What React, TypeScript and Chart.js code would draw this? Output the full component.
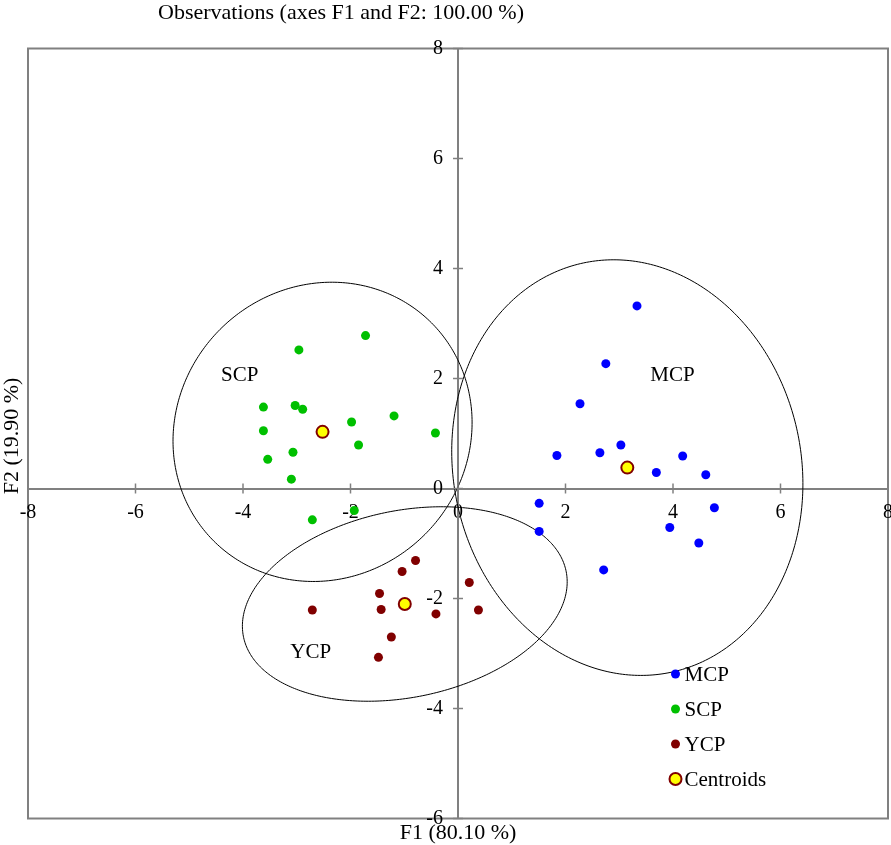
import React, { useEffect, useRef } from 'react';
import { Chart, registerables } from 'chart.js';

Chart.register(...registerables);

// ---------- data ----------
const mcpX = [3.33, 2.75, 2.27, 3.03, 1.84, 2.64, 4.18, 3.69, 4.61, 1.51, 4.77, 3.94, 1.51, 4.48, 2.71];
const mcpY = [3.32, 2.27, 1.54, 0.79, 0.60, 0.65, 0.59, 0.29, 0.25, -0.27, -0.35, -0.71, -0.78, -0.99, -1.48];

const scpX = [-1.72, -2.96, -3.62, -3.03, -2.89, -1.19, -1.98, -0.42, -3.62, -1.85, -3.07, -3.54, -3.10, -2.71, -1.93];
const scpY = [2.78, 2.52, 1.48, 1.51, 1.44, 1.32, 1.21, 1.01, 1.05, 0.79, 0.66, 0.53, 0.17, -0.57, -0.40];

const ycpX = [-0.79, -1.04, 0.21, -1.46, -2.71, -1.43, 0.38, -0.41, -1.24, -1.48];
const ycpY = [-1.31, -1.51, -1.71, -1.91, -2.21, -2.20, -2.21, -2.28, -2.70, -3.07];

const centroidX = [3.15, -2.52, -0.99];
const centroidY = [0.38, 1.03, -2.10];

const groupNames = ['MCP', 'SCP', 'YCP'];
const groupLabelX = [3.99, -4.06, -2.74];
const groupLabelY = [2.05, 2.05, -2.99];

// confidence ellipses (data units): centre, semi-axes, rotation (deg)
const ellipseCx = [3.15, -2.52, -0.99];
const ellipseCy = [0.38, 1.03, -2.10];
const ellipseRx = [3.81, 2.84, 3.06];
const ellipseRy = [3.23, 2.66, 1.70];
const ellipseAngle = [104, 35, 11];

const legendLabels = ['MCP', 'SCP', 'YCP', 'Centroids'];

const xMin = -8, xMax = 8, yMin = -6, yMax = 8, tickStep = 2;

const chartTitle = 'Observations (axes F1 and F2: 100.00 %)';
const xAxisTitle = 'F1 (80.10 %)';
const yAxisTitle = 'F2 (19.90 %)';

// ---------- styles ----------
const FONT = "'Liberation Serif', 'Times New Roman', serif";
const AXIS_GRAY = '#808080';
const COLORS = ['#0000FF', '#00C000', '#800000'];

const toPoints = (xs: number[], ys: number[]) => xs.map((x, i) => ({ x, y: ys[i] }));

const zeroPadding = (scale: any) => {
  scale.paddingLeft = 0;
  scale.paddingRight = 0;
  scale.paddingTop = 0;
  scale.paddingBottom = 0;
};

const decorPlugin = {
  id: 'decor',
  beforeDraw(chart: any) {
    const { ctx, chartArea: a } = chart;
    ctx.save();
    ctx.strokeStyle = AXIS_GRAY;
    ctx.lineWidth = 2;
    ctx.strokeRect(a.left, a.top, a.right - a.left, a.bottom - a.top);
    ctx.restore();
  },
  beforeDatasetsDraw(chart: any) {
    const { ctx } = chart;
    const xs = chart.scales.x;
    const ys = chart.scales.y;
    ctx.save();
    ctx.strokeStyle = '#000';
    ctx.lineWidth = 1;
    for (let e = 0; e < ellipseCx.length; e++) {
      const phi = (ellipseAngle[e] * Math.PI) / 180;
      ctx.beginPath();
      for (let k = 0; k <= 360; k++) {
        const t = (k * Math.PI) / 180;
        const dx = ellipseRx[e] * Math.cos(t);
        const dy = ellipseRy[e] * Math.sin(t);
        const x = ellipseCx[e] + dx * Math.cos(phi) - dy * Math.sin(phi);
        const y = ellipseCy[e] + dx * Math.sin(phi) + dy * Math.cos(phi);
        const px = xs.getPixelForValue(x);
        const py = ys.getPixelForValue(y);
        if (k === 0) ctx.moveTo(px, py);
        else ctx.lineTo(px, py);
      }
      ctx.closePath();
      ctx.stroke();
    }
    ctx.restore();
  },
  afterDraw(chart: any) {
    const { ctx, chartArea: a } = chart;
    const xs = chart.scales.x;
    const ys = chart.scales.y;
    const x0 = xs.getPixelForValue(0);
    const y0 = ys.getPixelForValue(0);
    ctx.save();
    // crossing tick marks
    ctx.strokeStyle = AXIS_GRAY;
    ctx.lineWidth = 1.5;
    xs.ticks.forEach((t: any) => {
      const px = xs.getPixelForValue(t.value);
      ctx.beginPath();
      ctx.moveTo(px, y0 - 5);
      ctx.lineTo(px, y0 + 5);
      ctx.stroke();
    });
    ys.ticks.forEach((t: any) => {
      const py = ys.getPixelForValue(t.value);
      ctx.beginPath();
      ctx.moveTo(x0 - 5, py);
      ctx.lineTo(x0 + 5, py);
      ctx.stroke();
    });

    // group labels
    ctx.fillStyle = '#000';
    ctx.font = `21px ${FONT}`;
    ctx.textAlign = 'center';
    ctx.textBaseline = 'middle';
    groupNames.forEach((n, i) => {
      ctx.fillText(n, xs.getPixelForValue(groupLabelX[i]), ys.getPixelForValue(groupLabelY[i]));
    });

    // legend
    const lx = a.right - 212.5;
    const ly = a.bottom - 144.5;
    chart.data.datasets.forEach((ds: any, i: number) => {
      const cy = ly + i * 35;
      ctx.beginPath();
      ctx.arc(lx, cy, ds.pointRadius, 0, Math.PI * 2);
      ctx.fillStyle = ds.backgroundColor;
      ctx.fill();
      if (ds.borderWidth) {
        ctx.lineWidth = ds.borderWidth;
        ctx.strokeStyle = ds.borderColor;
        ctx.stroke();
      }
      ctx.fillStyle = '#000';
      ctx.textAlign = 'left';
      ctx.textBaseline = 'middle';
      ctx.font = `21px ${FONT}`;
      ctx.fillText(legendLabels[i], lx + 9, cy + 1);
    });

    // titles
    ctx.font = `22px ${FONT}`;
    ctx.textAlign = 'left';
    ctx.textBaseline = 'middle';
    ctx.fillText(chartTitle, a.left + 130, 13);
    ctx.textAlign = 'center';
    ctx.fillText(xAxisTitle, x0, a.bottom + 15);
    ctx.translate(12, 436);
    ctx.rotate(-Math.PI / 2);
    ctx.fillText(yAxisTitle, 0, 0);
    ctx.restore();
  },
};

export default function App() {
  const ref = useRef<HTMLCanvasElement | null>(null);

  useEffect(() => {
    if (!ref.current) return;
    Chart.defaults.font.family = FONT;
    Chart.defaults.color = '#000';
    const chart = new Chart(ref.current, {
      type: 'scatter',
      data: {
        datasets: [
          { label: 'MCP', data: toPoints(mcpX, mcpY), backgroundColor: COLORS[0], borderColor: COLORS[0], borderWidth: 0, pointRadius: 4.5 },
          { label: 'SCP', data: toPoints(scpX, scpY), backgroundColor: COLORS[1], borderColor: COLORS[1], borderWidth: 0, pointRadius: 4.5 },
          { label: 'YCP', data: toPoints(ycpX, ycpY), backgroundColor: COLORS[2], borderColor: COLORS[2], borderWidth: 0, pointRadius: 4.5 },
          { label: 'Centroids', data: toPoints(centroidX, centroidY), backgroundColor: '#FFFF00', borderColor: '#800000', borderWidth: 2, pointRadius: 6 },
        ],
      },
      options: {
        responsive: false,
        animation: false,
        devicePixelRatio: 1,
        layout: { padding: { left: 28, top: 48.5, right: 2.5, bottom: 26.5 } },
        plugins: { legend: { display: false }, tooltip: { enabled: false }, title: { display: false } },
        scales: {
          x: {
            type: 'linear',
            min: xMin,
            max: xMax,
            position: { y: 0 } as any,
            z: 1,
            afterFit: zeroPadding,
            grid: { drawOnChartArea: false, drawTicks: false },
            border: { color: AXIS_GRAY, width: 2 },
            ticks: { stepSize: tickStep, autoSkip: false, maxRotation: 0, padding: 12, color: '#000', font: { size: 20, family: FONT } },
          },
          y: {
            type: 'linear',
            min: yMin,
            max: yMax,
            position: { x: 0 } as any,
            z: 1,
            afterFit: zeroPadding,
            grid: { drawOnChartArea: false, drawTicks: false },
            border: { color: AXIS_GRAY, width: 2 },
            ticks: {
              stepSize: tickStep,
              autoSkip: false,
              padding: 16,
              color: '#000',
              font: { size: 20, family: FONT },
              callback: (v: any) => `${v}   `,
            },
          },
        },
      },
      plugins: [decorPlugin],
    } as any);
    return () => chart.destroy();
  }, []);

  return (
    <div style={{ position: 'absolute', left: 0, top: 0, width: 891, height: 845, overflow: 'hidden' }}>
      <canvas ref={ref} width={896} height={845} style={{ display: 'block' }} />
    </div>
  );
}
